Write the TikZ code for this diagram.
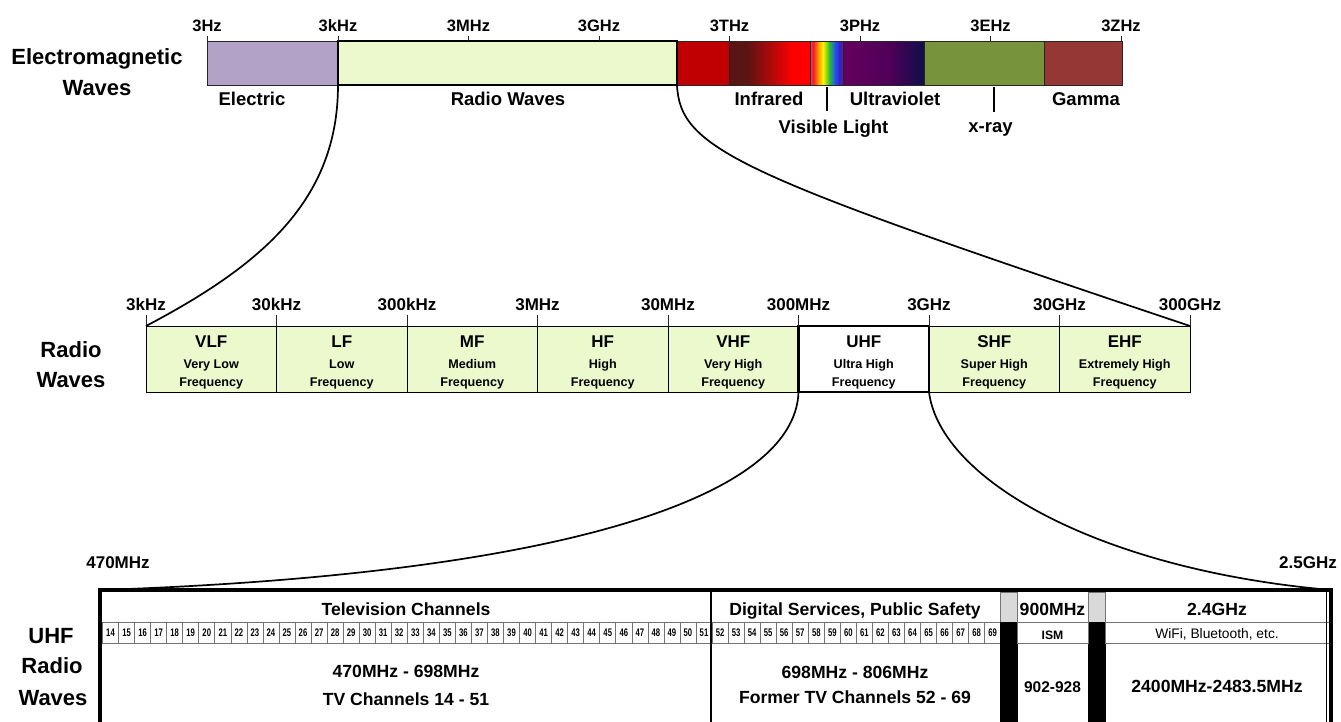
\documentclass[tikz,border=0pt]{standalone}
\usepackage{fontspec}
\setmainfont{Liberation Sans}
\newfontfamily\condfont{Liberation Sans}[FakeStretch=0.7]
\newcommand{\myfs}[1]{\fontsize{#1}{#1}\selectfont}
\definecolor{radiog}{HTML}{EBF9CC}
\definecolor{elecp}{HTML}{B3A2C7}
\definecolor{redA}{HTML}{C00000}
\definecolor{redB}{HTML}{FF0000}
\definecolor{irdark}{HTML}{5A1414}
\definecolor{visA}{HTML}{D0407A}
\definecolor{visB}{HTML}{FF2020}
\definecolor{visC}{HTML}{FF9A00}
\definecolor{visD}{HTML}{FFF200}
\definecolor{visE}{HTML}{30C030}
\definecolor{visF}{HTML}{2050F0}
\definecolor{visG}{HTML}{3A20C8}
\definecolor{visH}{HTML}{6A1A8A}
\definecolor{uvA}{HTML}{66005E}
\definecolor{uvB}{HTML}{4E0058}
\definecolor{uvC}{HTML}{0F0F4A}
\definecolor{xrayg}{HTML}{77933C}
\definecolor{gammar}{HTML}{953735}
\definecolor{greycol}{HTML}{D9D9D9}
\tikzset{
  seg/.style={anchor=north west, inner sep=0pt, outer sep=0pt, minimum height=44pt, line width=0.9pt},
  shseg/.style={anchor=north west, inner sep=0pt, outer sep=0pt, minimum height=42.6pt},
  segline/.style={draw=black!85},
  tick/.style={anchor=base, inner sep=0pt, font=\bfseries\myfs{16.5}},
  mtick/.style={anchor=base, inner sep=0pt, font=\bfseries\myfs{17}},
  ttl/.style={anchor=base, inner sep=0pt, font=\bfseries\myfs{22}},
  band/.style={anchor=base, inner sep=0pt, font=\bfseries\myfs{18.5}},
  cell/.style={anchor=north west, inner sep=0pt, outer sep=0pt, minimum width=130.5pt, minimum height=66pt, draw=black, line width=1pt},
  abbr/.style={anchor=base, inner sep=0pt, font=\bfseries\myfs{17}},
  sub/.style={anchor=base, inner sep=0pt, font=\bfseries\myfs{12.6}},
  big/.style={anchor=base, inner sep=0pt, font=\bfseries\myfs{17.6}},
  chan/.style={anchor=north west, draw=black!55, line width=0.6pt, minimum width=16.04pt, minimum height=20.5pt, inner sep=0pt, outer sep=0pt, font=\condfont\bfseries\myfs{11}},
  tcell/.style={anchor=north west, inner sep=0pt, outer sep=0pt, draw=black!55, line width=0.6pt},
  conn/.style={line width=1.7pt, black},
  tickline/.style={line width=0.9pt, black!85}
}
\begin{document}
\begin{tikzpicture}[x=1pt,y=-1pt]
\useasboundingbox (0,0) rectangle (1341,722);
\fill[white] (0,0) rectangle (1341,722);

% ---------------- Electromagnetic waves bar ----------------
\node[ttl] (em1) at (97,65) {Electromagnetic};
\node[ttl] (em2) at (97,96) {Waves};

\node[seg, segline, fill=elecp, minimum width=131pt] (elec) at (207,41) {};
\node[seg, fill=redA, minimum width=52.4pt] (red) at (677,41) {};
\node[seg, fill=irdark, minimum width=18.4pt] (ira) at (729,41) {};
\node[shseg, left color=irdark, right color=redB, minimum width=45.4pt] (irb) at (747,41.7) {};
\node[seg, fill=redB, minimum width=18pt] (irc) at (792,41) {};
\node[shseg, left color=visA, right color=visB, minimum width=3.9pt] (v1) at (810,41.7) {};
\node[shseg, left color=visB, right color=visC, minimum width=4.9pt] (v2) at (813.5,41.7) {};
\node[shseg, left color=visC, right color=visD, minimum width=5.4pt] (v3) at (818,41.7) {};
\node[shseg, left color=visD, right color=visE, minimum width=6.4pt] (v4) at (823,41.7) {};
\node[shseg, left color=visE, right color=visF, minimum width=6.4pt] (v5) at (829,41.7) {};
\node[shseg, left color=visF, right color=visG, minimum width=4.9pt] (v6) at (835,41.7) {};
\node[shseg, left color=visG, right color=visH, minimum width=3.5pt] (v7) at (839.5,41.7) {};
\node[shseg, left color=uvA, right color=uvB, minimum width=47.4pt] (uva) at (843,41.7) {};
\node[shseg, left color=uvB, right color=uvC, minimum width=34pt] (uvb) at (890,41.7) {};
\node[seg, fill=xrayg, minimum width=120pt] (xray) at (924,41) {};
\node[seg, fill=gammar, minimum width=78pt] (gamma) at (1044,41) {};
% outlines
\node[seg, segline, minimum width=52pt] (redo) at (677,41) {};
\node[seg, segline, minimum width=81pt] (ir) at (729,41) {};
\node[seg, segline, minimum width=33pt] (vis) at (810,41) {};
\node[seg, segline, minimum width=81pt] (uv) at (843,41) {};
\node[seg, segline, minimum width=120pt] (xrayo) at (924,41) {};
\node[seg, segline, minimum width=78pt] (gammao) at (1044,41) {};
\node[seg, draw=black, fill=radiog, line width=2.4pt, minimum width=339pt] (radio) at (338,41) {};

\foreach \x/\t/\n in {207/3Hz/a, 338/3kHz/b, 468.5/3MHz/c, 599/3GHz/d, 729.5/3THz/e, 860/3PHz/f, 990.5/3EHz/g, 1121/3ZHz/h}{
  \node[tick] (tk\n) at (\x,32) {\t};
  \draw[tickline] (\x,36) -- (\x,41);
}

\node[band] (lelec) at (252,106) {Electric};
\node[band] (lradio) at (508,106) {Radio Waves};
\node[band] (lir) at (769,106) {Infrared};
\node[band] (luv) at (895,106) {Ultraviolet};
\node[band] (lvis) at (833.5,134) {Visible Light};
\node[band] (lxray) at (990.5,133) {x-ray};
\node[band] (lgamma) at (1086,106) {Gamma};
\coordinate (visa) at (827,87);
\coordinate (visb) at (827,111);
\coordinate (xra) at (994,87);
\coordinate (xrb) at (994,112);
\draw[line width=1.6pt] (visa) -- (visb);
\draw[line width=1.6pt] (xra) -- (xrb);

% ---------------- Radio waves bar ----------------
\node[ttl] (rw1) at (71,357) {Radio};
\node[ttl] (rw2) at (71,387) {Waves};

\foreach \i/\a/\b in {0/VLF/Very Low, 1/LF/Low, 2/MF/Medium, 3/HF/High, 4/VHF/Very High, 6/SHF/Super High, 7/EHF/Extremely High}{
  \node[cell, fill=radiog] (b\i) at ({146+130.5*\i},326) {};
  \node[abbr] (ba\i) at ({211.25+130.5*\i},347) {\a};
  \node[sub] (bb\i) at ({211.25+130.5*\i},368) {\b};
  \node[sub] (bc\i) at ({211.25+130.5*\i},386.5) {Frequency};
}
\node[cell, fill=white, line width=2.2pt] (b5) at (798.5,326) {};
\node[abbr] (ba5) at (863.75,347) {UHF};
\node[sub] (bb5) at (863.75,368) {Ultra High};
\node[sub] (bc5) at (863.75,386.5) {Frequency};

\foreach \i/\t in {0/3kHz, 1/30kHz, 2/300kHz, 3/3MHz, 4/30MHz, 5/300MHz, 6/3GHz, 7/30GHz, 8/300GHz}{
  \node[mtick] (mt\i) at ({146+130.5*\i},310) {\t};
  \draw[tickline] ({146+130.5*\i},315) -- ({146+130.5*\i},326);
}

% connectors top -> middle
\draw[conn] (radio.south west) .. controls (338,200) and (262,265) .. (b0.north west);
\draw[conn] (radio.south east) .. controls (680,150) and (740,175) .. (b7.north east);

% ---------------- UHF table ----------------
\node[ttl] (u1) at (51,643) {UHF};
\node[ttl] (u2) at (52,673) {Radio};
\node[ttl] (u3) at (53,705) {Waves};
\node[mtick] (f470) at (118,568) {470MHz};
\node[mtick] (f25) at (1308,568) {2.5GHz};

\foreach \c in {14,...,69}{
  \node[chan] (ch\c) at ({102.5+(\c-14)*16.04},622.5) {\c};
}
\node[tcell, fill=greycol, minimum width=17pt, minimum height=30.5pt] (g1) at (1000,592) {};
\node[tcell, fill=black, draw=black, minimum width=17pt, minimum height=110pt] (k1) at (1000,622.5) {};
\node[tcell, fill=greycol, minimum width=17pt, minimum height=30.5pt] (g2) at (1088,592) {};
\node[tcell, fill=black, draw=black, minimum width=17pt, minimum height=110pt] (k2) at (1088,622.5) {};
\node[tcell, minimum width=71pt, minimum height=20.5pt] (ism) at (1017,622.5) {};
\node[tcell, minimum width=224pt, minimum height=20.5pt] (wifi) at (1105,622.5) {};

\node[anchor=north west, draw=black, line width=3.6pt, minimum width=1231pt, minimum height=160pt, inner sep=0pt, outer sep=0pt] (tbl) at (100,590) {};
\draw[line width=2.4pt] (711,590) -- (711,740);
\draw[line width=0.8pt] (1326.5,592) -- (1326.5,740);

\node[big] (tvh) at (406,615) {Television Channels};
\node[big] (tv1) at (406,677) {470MHz - 698MHz};
\node[big] (tv2) at (406,705) {TV Channels 14 - 51};
\node[big] (dsh) at (855,615) {Digital Services, Public Safety};
\node[big] (ds1) at (855,678) {698MHz - 806MHz};
\node[big] (ds2) at (855,703) {Former TV Channels 52 - 69};
\node[big] (n9h) at (1052.5,615) {900MHz};
\node[anchor=base, inner sep=0pt, font=\bfseries\myfs{12.2}] (n9s) at (1052.5,639) {ISM};
\node[anchor=base, inner sep=0pt, font=\bfseries\myfs{15.5}] (n9r) at (1052.5,692) {902-928};
\node[big] (g24h) at (1217,615) {2.4GHz};
\node[anchor=base, inner sep=0pt, font=\myfs{13.8}] (g24s) at (1217,638) {WiFi, Bluetooth, etc.};
\node[big] (g24r) at (1217,692) {2400MHz-2483.5MHz};

% connectors middle -> table
\draw[conn] (b5.south west) .. controls (795,500) and (550,575) .. (tbl.north west);
\draw[conn] (b5.south east) .. controls (940,480) and (1100,570) .. (tbl.north east);
\end{tikzpicture}
\end{document}
